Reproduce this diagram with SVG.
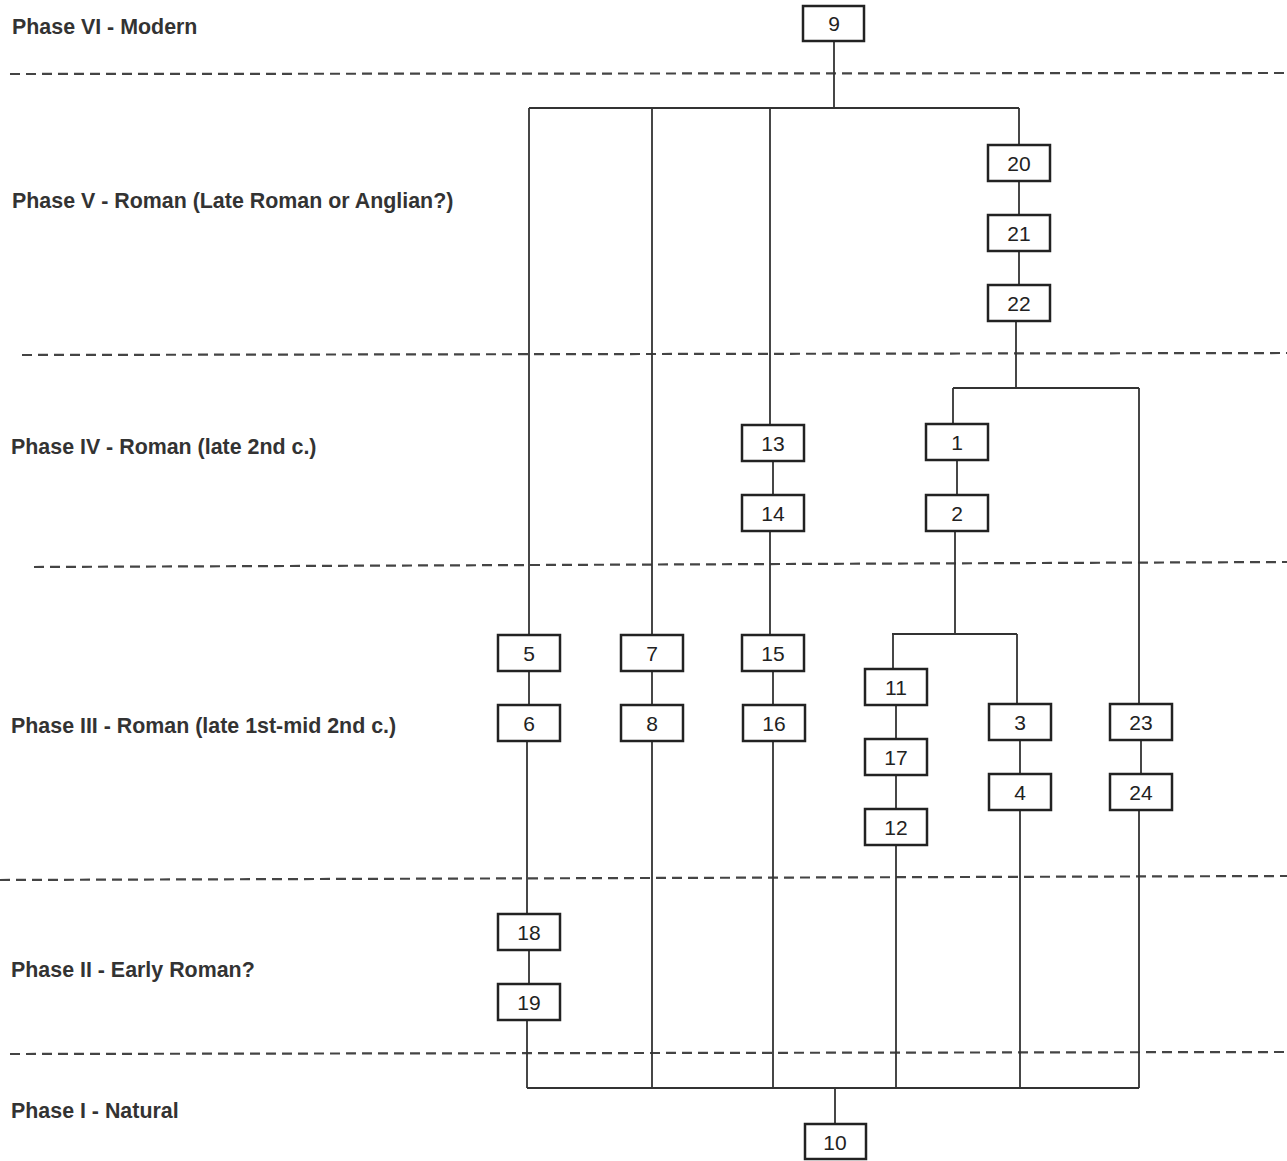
<svg xmlns="http://www.w3.org/2000/svg" width="1287" height="1161" viewBox="0 0 1287 1161">
<style>
.phase{font-family:"Liberation Sans",Arial,sans-serif;font-weight:bold;font-size:21.4px;fill:#333}
.dash{stroke:#444;stroke-width:2.2;stroke-dasharray:10 6;fill:none}
.box{fill:#fff;stroke:#222;stroke-width:2.5}
.num{font-family:"Liberation Sans",Arial,sans-serif;font-size:21px;fill:#222;text-anchor:middle;dominant-baseline:central}
.conn{stroke:#333;stroke-width:1.8;fill:none}
</style>
<rect width="1287" height="1161" fill="#fff"/>
<g id="phases">
<text class="phase" x="12" y="34">Phase VI - Modern</text>
<text class="phase" x="12" y="208">Phase V - Roman (Late Roman or Anglian?)</text>
<text class="phase" x="11" y="454">Phase IV - Roman (late 2nd c.)</text>
<text class="phase" x="11" y="733">Phase III - Roman (late 1st-mid 2nd c.)</text>
<text class="phase" x="11" y="977">Phase II - Early Roman?</text>
<text class="phase" x="11" y="1118">Phase I - Natural</text>
<line class="dash" x1="10" y1="74" x2="1287" y2="73"/>
<line class="dash" x1="22" y1="355" x2="1287" y2="353"/>
<line class="dash" x1="34" y1="567" x2="1287" y2="562"/>
<line class="dash" x1="0" y1="880" x2="1287" y2="876"/>
<line class="dash" x1="10" y1="1054" x2="1287" y2="1052"/>
</g>
<g id="connectors">
<path class="conn" d="M834 41V108M529 108H1019M529 108V635M652 108V635M770 108V425M1019 108V145"/>
<path class="conn" d="M1019 181V215M1019 251V285M1016 321V388M953 388H1139M953 388V425M1139 388V704"/>
<path class="conn" d="M957 460V495M955 531V634M892 634H1017M893 634V669M1017 634V704"/>
<path class="conn" d="M773 461V495M770 531V635M773 671V705M773 741V1088"/>
<path class="conn" d="M529 671V705M527 741V914M529 950V984M527 1020V1088"/>
<path class="conn" d="M652 671V705M652 741V1088"/>
<path class="conn" d="M896 705V739M896 775V809M896 845V1088"/>
<path class="conn" d="M1020 740V774M1020 810V1088M1141 740V774M1139 810V1088"/>
<path class="conn" d="M527 1088H1139M835 1088V1124"/>
</g>
<g id="n9"><rect class="box" x="803" y="6" width="61" height="35"/><text class="num" x="834" y="23">9</text></g>
<g id="n20"><rect class="box" x="988" y="145" width="62" height="36"/><text class="num" x="1019" y="163">20</text></g>
<g id="n21"><rect class="box" x="988" y="215" width="62" height="36"/><text class="num" x="1019" y="233">21</text></g>
<g id="n22"><rect class="box" x="988" y="285" width="62" height="36"/><text class="num" x="1019" y="303">22</text></g>
<g id="n13"><rect class="box" x="742" y="425" width="62" height="36"/><text class="num" x="773" y="443">13</text></g>
<g id="n1"><rect class="box" x="926" y="424" width="62" height="36"/><text class="num" x="957" y="442">1</text></g>
<g id="n14"><rect class="box" x="742" y="495" width="62" height="36"/><text class="num" x="773" y="513">14</text></g>
<g id="n2"><rect class="box" x="926" y="495" width="62" height="36"/><text class="num" x="957" y="513">2</text></g>
<g id="n5"><rect class="box" x="498" y="635" width="62" height="36"/><text class="num" x="529" y="653">5</text></g>
<g id="n7"><rect class="box" x="621" y="635" width="62" height="36"/><text class="num" x="652" y="653">7</text></g>
<g id="n15"><rect class="box" x="742" y="635" width="62" height="36"/><text class="num" x="773" y="653">15</text></g>
<g id="n11"><rect class="box" x="865" y="669" width="62" height="36"/><text class="num" x="896" y="687">11</text></g>
<g id="n3"><rect class="box" x="989" y="704" width="62" height="36"/><text class="num" x="1020" y="722">3</text></g>
<g id="n23"><rect class="box" x="1110" y="704" width="62" height="36"/><text class="num" x="1141" y="722">23</text></g>
<g id="n6"><rect class="box" x="498" y="705" width="62" height="36"/><text class="num" x="529" y="723">6</text></g>
<g id="n8"><rect class="box" x="621" y="705" width="62" height="36"/><text class="num" x="652" y="723">8</text></g>
<g id="n16"><rect class="box" x="743" y="705" width="62" height="36"/><text class="num" x="774" y="723">16</text></g>
<g id="n17"><rect class="box" x="865" y="739" width="62" height="36"/><text class="num" x="896" y="757">17</text></g>
<g id="n4"><rect class="box" x="989" y="774" width="62" height="36"/><text class="num" x="1020" y="792">4</text></g>
<g id="n24"><rect class="box" x="1110" y="774" width="62" height="36"/><text class="num" x="1141" y="792">24</text></g>
<g id="n12"><rect class="box" x="865" y="809" width="62" height="36"/><text class="num" x="896" y="827">12</text></g>
<g id="n18"><rect class="box" x="498" y="914" width="62" height="36"/><text class="num" x="529" y="932">18</text></g>
<g id="n19"><rect class="box" x="498" y="984" width="62" height="36"/><text class="num" x="529" y="1002">19</text></g>
<g id="n10"><rect class="box" x="805" y="1124" width="61" height="35"/><text class="num" x="835" y="1142">10</text></g>
</svg>
